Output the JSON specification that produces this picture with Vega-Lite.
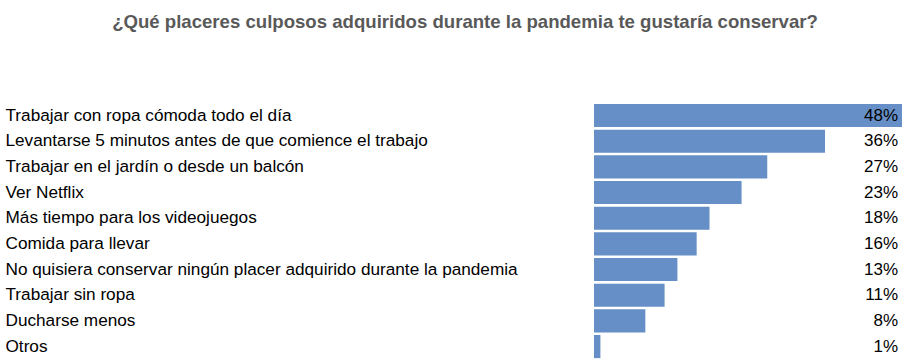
{
  "$schema": "https://vega.github.io/schema/vega-lite/v6.json",
  "autosize": "none",
  "width": 308,
  "height": 256.7,
  "padding": {"left": 594, "top": 102.7, "right": 1, "bottom": 1.6},
  "background": "white",
  "config": {"view": {"stroke": null}, "font": "Liberation Sans"},
  "title": {
    "text": "¿Qué placeres culposos adquiridos durante la pandemia te gustaría conservar?",
    "font": "Liberation Sans",
    "fontSize": 18.6,
    "fontWeight": "bold",
    "color": "#595959",
    "anchor": "middle",
    "frame": "group",
    "baseline": "alphabetic",
    "dx": -283,
    "offset": 56
  },
  "data": {
    "values": [
      {"item": "Trabajar con ropa cómoda todo el día", "pct": 0.48},
      {"item": "Levantarse 5 minutos antes de que comience el trabajo", "pct": 0.36},
      {"item": "Trabajar en el jardín o desde un balcón", "pct": 0.27},
      {"item": "Ver Netflix", "pct": 0.23},
      {"item": "Más tiempo para los videojuegos", "pct": 0.18},
      {"item": "Comida para llevar", "pct": 0.16},
      {"item": "No quisiera conservar ningún placer adquirido durante la pandemia", "pct": 0.13},
      {"item": "Trabajar sin ropa", "pct": 0.11},
      {"item": "Ducharse menos", "pct": 0.08},
      {"item": "Otros", "pct": 0.01}
    ]
  },
  "encoding": {
    "y": {
      "field": "item",
      "type": "nominal",
      "sort": null,
      "scale": {"paddingInner": 0.1, "paddingOuter": 0.05},
      "axis": {
        "title": null,
        "ticks": false,
        "domain": false,
        "labelAlign": "left",
        "labelPadding": 589,
        "labelLimit": 600,
        "labelFont": "Liberation Sans",
        "labelFontSize": 17.2,
        "labelColor": "#000000"
      }
    }
  },
  "layer": [
    {
      "mark": {"type": "bar", "color": "#658fc6"},
      "encoding": {
        "x": {
          "field": "pct",
          "type": "quantitative",
          "scale": {"domain": [0, 0.48], "nice": false},
          "axis": null
        }
      }
    },
    {
      "mark": {
        "type": "text",
        "align": "right",
        "baseline": "middle",
        "dx": -4,
        "font": "Liberation Sans",
        "fontSize": 17,
        "color": "#000000"
      },
      "encoding": {
        "x": {"datum": 0.48, "type": "quantitative"},
        "text": {"field": "pct", "type": "quantitative", "format": ".0%"}
      }
    }
  ]
}
